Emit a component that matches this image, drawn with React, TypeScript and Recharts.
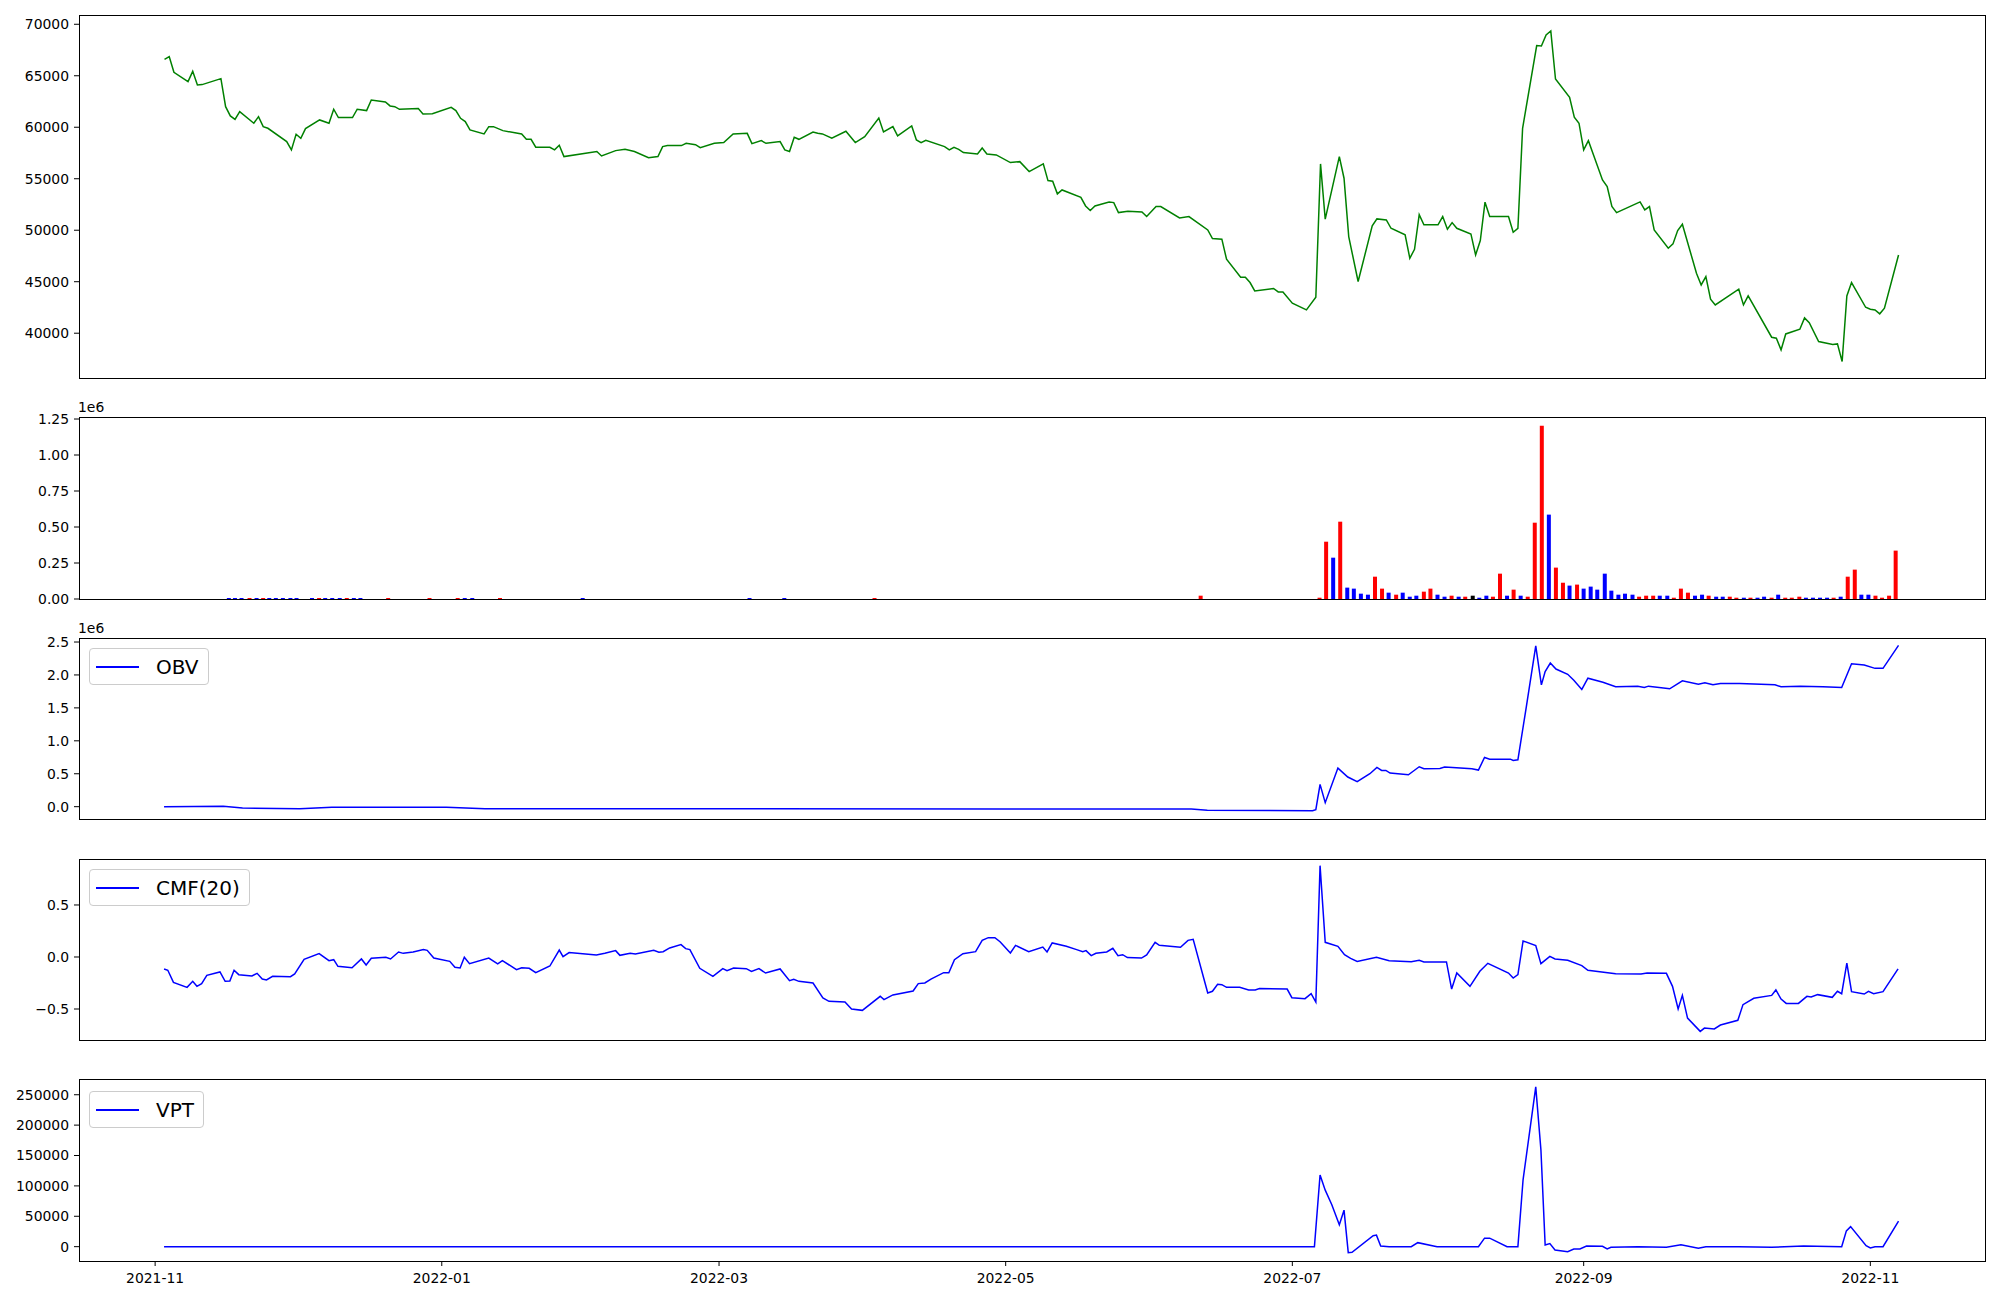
import React from "react";
import { LineChart, Line, BarChart, Bar, Cell, XAxis, YAxis, Legend } from "recharts";

// x values are days since 2021-11-01
const TICK_DAYS = [0, 61, 120, 181, 242, 304, 365];
const TICK_LABELS = ["2021-11", "2022-01", "2022-03", "2022-05", "2022-07", "2022-09", "2022-11"];

const PRICE_DAY = [
  2, 3, 4, 7, 8, 9, 10, 14, 15, 16, 17, 18, 21, 22, 23, 24, 28, 29, 30, 31, 32, 35, 37, 38, 39, 42, 43, 45, 46, 49,
  50, 51, 52, 56, 57, 59, 63, 64, 65, 66, 67, 70, 71, 72, 74, 78, 79, 80, 81, 84, 85, 86, 87, 94, 95, 98, 100, 102,
  105, 107, 108, 109, 112, 113, 115, 116, 119, 121, 123, 126, 127, 129, 130, 133, 134, 135, 136, 137, 140, 141, 142,
  144, 147, 149, 151, 154, 155, 157, 158, 161, 162, 163, 164, 168, 169, 170, 171, 172, 175, 176, 177, 179, 182, 184,
  186, 189, 190, 191, 192, 193, 197, 198, 199, 200, 203, 204, 205, 207, 210, 211, 213, 214, 218, 220, 224, 225, 227,
  228, 231, 232, 233, 234, 238, 239, 240, 242, 245, 247, 248, 249, 252, 253, 254, 256, 259, 260, 262, 263, 266, 267,
  268, 269, 270, 273, 274, 275, 276, 277, 280, 281, 282, 283, 284, 288, 289, 290, 291, 294, 295, 296, 297, 298, 301,
  302, 303, 304, 305, 308, 309, 310, 311, 316, 317, 318, 319, 322, 323, 324, 325, 328, 329, 330, 331, 332, 337, 338,
  339, 344, 345, 346, 347, 350, 351, 352, 354, 357, 358, 359, 360, 361, 364, 365, 366, 367, 368, 371,
];
const PRICE = [
  66600, 66860, 65340, 64430, 65430, 64110, 64140, 64720, 62000, 61100, 60770, 61520, 60390, 61030, 60060, 59900,
  58610, 57800, 59320, 58930, 59870, 60710, 60390, 61750, 60940, 60940, 61750, 61620, 62650, 62460, 62070, 62000,
  61740, 61810, 61290, 61320, 61940, 61620, 60870, 60550, 59740, 59350, 60060, 60060, 59670, 59350, 58830, 58830,
  58060, 58060, 57800, 58250, 57150, 57640, 57210, 57730, 57860, 57640, 57050, 57150, 58120, 58220, 58220, 58440,
  58310, 58020, 58440, 58510, 59350, 59410, 58410, 58700, 58440, 58610, 57800, 57640, 59030, 58830, 59540, 59410,
  59350, 58930, 59610, 58510, 59090, 60900, 59540, 60060, 59160, 60130, 58770, 58510, 58730, 58120, 57800, 58060,
  57860, 57540, 57410, 57990, 57410, 57310, 56570, 56660, 55690, 56440, 54820, 54760, 53530, 53910, 53200, 52360,
  51910, 52360, 52750, 52680, 51710, 51840, 51780, 51330, 52300, 52300, 51200, 51330, 50030, 49190, 49130, 47180,
  45440, 45440, 44920, 44110, 44340, 44010, 44010, 42910, 42260, 43490, 56440, 51070, 57150, 55050, 49380, 45020,
  50420, 51100, 51000, 50190, 49550, 47280, 48150, 51520, 50520, 50520, 51330, 50100, 50740, 50190, 49640, 47600,
  49000, 52720, 51330, 51330, 49800, 50190, 59900, 67930, 67890, 68960, 69350, 64690, 62910, 60970, 60390, 57800,
  58700, 54880, 54240, 52300, 51710, 52750, 51970, 52300, 50030, 48250, 48670, 49970, 50580, 45820, 44690, 45500,
  43300, 42750, 44270, 42750, 43620, 39610, 39510, 38380, 39930, 40390, 41490, 41030, 39190, 38900, 38960, 37250,
  43620, 44920, 42520, 42330, 42260, 41880, 42430, 47600,
];

// direction: 1 = up (red), -1 = down (blue), 0 = unchanged (black)
const VOL_DAY = [
  15.7, 17.0, 18.4, 20.1, 21.6, 23.0, 24.3, 25.7, 27.2, 28.8, 30.1, 33.4, 34.9, 36.2, 37.7, 39.3, 40.8, 42.3, 43.7,
  49.6, 58.4, 64.4, 65.9, 67.5, 73.4, 91.0, 126.5, 133.9, 153.1, 222.5,
  247.8, 249.2, 250.7, 252.2, 253.7, 255.1, 256.6, 258.1, 259.6, 261.1, 262.5, 264.1, 265.5, 267.0, 268.4, 270.0,
  271.4, 272.9, 274.4, 275.9, 277.4, 278.8, 280.4, 281.8, 283.3, 284.7, 286.2, 287.7, 289.1, 290.6, 292.1, 293.6,
  295.1, 296.6, 298.1, 299.6, 301.0, 302.6, 304.0, 305.5, 306.9, 308.5, 309.9, 311.4, 312.8, 314.4, 315.8, 317.3,
  318.8, 320.2, 321.8, 323.2, 324.7, 326.2, 327.7, 329.2, 330.6, 332.2, 333.6, 335.1, 336.5, 338.1, 339.5, 341.0,
  342.4, 344.0, 345.4, 346.9, 348.3, 349.9, 351.3, 352.8, 354.3, 355.8, 357.2, 358.7, 360.2, 361.7, 363.1, 364.6,
  366.1, 367.5, 369.0, 370.4,
];
const VOL = [
  7000, 7000, 7000, 7000, 7000, 7000, 7000, 7000, 7000, 7000, 7000, 7000, 7000, 7000, 7000, 7000, 7000, 7000, 7000,
  7000, 7000, 7000, 7000, 7000, 7000, 7000, 7000, 7000, 7000, 23000,
  9000, 398000, 287000, 537000, 79000, 72000, 37000, 30000, 155000, 72000, 44000, 30000, 44000, 16000, 23000, 51000,
  72000, 30000, 16000, 23000, 16000, 16000, 23000, 9000, 23000, 16000, 176000, 23000, 65000, 23000, 16000, 530000,
  1204000, 586000, 218000, 113000, 93000, 100000, 72000, 86000, 65000, 176000, 58000, 30000, 37000, 30000, 16000, 23000,
  23000, 23000, 23000, 9000, 72000, 44000, 23000, 30000, 23000, 16000, 16000, 16000, 9000, 9000, 9000, 9000,
  16000, 9000, 30000, 9000, 9000, 16000, 9000, 9000, 9000, 9000, 9000, 16000, 155000, 204000, 30000, 30000,
  23000, 9000, 23000, 336000,
];
const VOL_DIR = [
  -1, -1, -1, 1, -1, 1, -1, -1, -1, -1, -1, -1, 1, -1, -1, -1, 1, -1, -1,
  1, 1, 1, -1, -1, 1, -1, -1, -1, 1, 1,
  1, 1, -1, 1, -1, -1, -1, -1, 1, 1, -1, 1, -1, -1, -1, 1,
  1, -1, -1, 1, -1, 1, 0, -1, -1, 1, 1, -1, 1, -1, 1, 1,
  1, -1, 1, 1, -1, 1, -1, -1, -1, -1, -1, -1, -1, -1, 1, 1,
  1, -1, -1, 1, 1, 1, -1, -1, 1, -1, -1, 1, 1, -1, 1, -1,
  -1, 1, -1, 1, 1, 1, -1, -1, -1, -1, 1, -1, 1, 1, -1, -1,
  1, 1, 1, 1,
];

const OBV_DAY = [
  1.9, 14.5, 18.6, 30.8, 37.6, 62, 70.2, 129.9, 179.8, 220.5, 223.9, 246.3, 247, 247.9, 249, 251.7, 253.8, 255.8,
  258.5, 260, 261, 261.9, 262.8, 266.7, 269, 270, 273.4, 274.4, 276.1, 280.2, 281.6, 282.9, 284, 288.4, 289, 290,
  291.8, 293.8, 295, 295.8, 296.9, 298.1, 300.6, 301.9, 303.6, 304.9, 308.1, 310.8, 315.5, 316.9, 317.8, 322.3, 325,
  328.4, 329.8, 331.5, 333.1, 337.2, 344.7, 346, 350.1, 354.9, 358.9, 361, 363.7, 366, 367.7, 371,
];
const OBV = [
  0, 5000, -20000, -30000, -10000, -10000, -30000, -30000, -35000, -35000, -56000, -61000, -45000, 338000, 61000,
  586000, 450000, 379000, 500000, 596000, 551000, 551000, 510000, 485000, 606000, 576000, 581000, 601000, 596000,
  576000, 556000, 747000, 722000, 722000, 702000, 712000, 1520000, 2440000, 1850000, 2050000, 2180000, 2090000,
  2010000, 1920000, 1780000, 1950000, 1890000, 1820000, 1830000, 1810000, 1830000, 1790000, 1910000, 1860000,
  1880000, 1850000, 1870000, 1870000, 1850000, 1820000, 1830000, 1820000, 1810000, 2170000, 2150000, 2100000,
  2100000, 2450000,
];

const CMF_DAY = [
  1.9, 2.7, 3.9, 6.8, 8.0, 8.9, 9.9, 11.0, 13.8, 14.9, 15.9, 16.8, 17.8, 20.6, 21.7, 22.8, 23.7, 25.0, 28.8, 29.7,
  31.7, 34.9, 37.0, 38.0, 38.9, 41.9, 43.9, 44.9, 46.0, 49.1, 50.1, 51.8, 52.8, 54.9, 57.1, 57.9, 59.3, 62.7, 63.8,
  64.9, 65.8, 66.9, 71.0, 72.9, 73.9, 76.9, 78.0, 79.6, 81.0, 84.0, 86.0, 86.8, 88.1, 93.9, 95.7, 98.0, 98.9, 101.1,
  102.2, 106.1, 107.2, 108.1, 109.5, 111.9, 112.9, 113.8, 115.9, 118.7, 120.8, 121.7, 123.1, 125.8, 126.9, 128.5,
  129.9, 133.0, 135.0, 135.9, 137.0, 140.0, 142.1, 143.4, 146.8, 148.2, 150.5, 154.3, 155.1, 157.0, 161.3, 162.4,
  163.8, 165.1, 167.8, 168.9, 170.1, 171.9, 174.6, 176.0, 177.3, 178.7, 179.8, 182.0, 183.1, 185.9, 188.9, 189.8,
  190.9, 193.9, 196.1, 197.4, 198.1, 199.2, 200.2, 202.5, 203.8, 204.9, 205.9, 206.9, 209.9, 211.0, 212.8, 213.7,
  218.2, 219.8, 220.9, 224.0, 225.0, 226.1, 227.0, 228.0, 230.8, 232.7, 234.1, 235.0, 240.9, 241.9, 244.7, 246.0,
  247.0, 247.9, 249.0, 251.7, 253.1, 254.4, 255.8, 259.9, 262.6, 267.3, 269.0, 270.0, 274.8, 275.9, 277.0, 279.8,
  281.9, 283.6, 288.0, 289.0, 290.0, 291.1, 293.8, 294.9, 296.8, 297.9, 300.6, 303.6, 304.9, 310.8, 316.2, 317.5,
  321.6, 322.9, 324.1, 325.0, 326.1, 328.8, 329.7, 331.8, 333.1, 336.8, 337.9, 340.2, 344.0, 344.9, 346.0, 347.1,
  349.7, 351.5, 352.4, 353.8, 356.9, 358.0, 358.9, 360.0, 361.0, 363.7, 364.6, 365.7, 367.7, 370.9,
];
const CMF = [
  -0.115, -0.128, -0.244, -0.292, -0.234, -0.282, -0.256, -0.176, -0.144, -0.234, -0.231, -0.128, -0.17, -0.183,
  -0.157, -0.212, -0.221, -0.186, -0.189, -0.163, -0.022, 0.032, -0.035, -0.026, -0.09, -0.103, -0.019, -0.077,
  -0.013, -0.003, -0.019, 0.048, 0.035, 0.048, 0.071, 0.064, -0.01, -0.042, -0.099, -0.106, -0.003, -0.064, -0.01,
  -0.067, -0.035, -0.122, -0.103, -0.109, -0.151, -0.087, 0.067, 0.003, 0.042, 0.019, 0.035, 0.061, 0.016, 0.035,
  0.029, 0.064, 0.045, 0.051, 0.087, 0.119, 0.08, 0.071, -0.109, -0.186, -0.112, -0.131, -0.106, -0.112, -0.138,
  -0.112, -0.154, -0.115, -0.228, -0.215, -0.234, -0.25, -0.394, -0.426, -0.433, -0.5, -0.513, -0.378, -0.41,
  -0.365, -0.327, -0.256, -0.25, -0.212, -0.151, -0.151, -0.026, 0.032, 0.051, 0.16, 0.186, 0.186, 0.147, 0.038,
  0.112, 0.051, 0.096, 0.048, 0.135, 0.103, 0.071, 0.051, 0.061, 0.013, 0.035, 0.048, 0.083, 0.013, 0.022, -0.006,
  -0.01, 0.019, 0.141, 0.112, 0.093, 0.16, 0.17, -0.346, -0.33, -0.263, -0.266, -0.292, -0.292, -0.317, -0.317,
  -0.304, -0.308, -0.391, -0.401, -0.353, -0.433, 0.878, 0.141, 0.103, 0.022, -0.013, -0.042, -0.003, -0.035,
  -0.045, -0.032, -0.048, -0.048, -0.308, -0.154, -0.282, -0.138, -0.061, -0.154, -0.202, -0.17, 0.154, 0.109,
  -0.064, 0.006, -0.019, -0.032, -0.083, -0.128, -0.16, -0.163, -0.154, -0.157, -0.282, -0.5, -0.369, -0.587,
  -0.715, -0.683, -0.692, -0.654, -0.609, -0.458, -0.397, -0.369, -0.317, -0.404, -0.446, -0.446, -0.378, -0.385,
  -0.362, -0.388, -0.33, -0.353, -0.058, -0.333, -0.356, -0.33, -0.353, -0.333, -0.115,
];

const VPT_DAY = [
  1.9, 100, 246.7, 247.9, 249.0, 250.4, 252.0, 253.0, 253.9, 254.7, 259.2, 259.9, 260.8, 262.6, 267.3, 268.7, 272.8,
  281.6, 282.9, 284.0, 287.7, 290.0, 291.1, 293.8, 294.9, 295.8, 296.8, 297.9, 300.6, 301.9, 303.2, 304.6, 308.0,
  309.0, 309.8, 315.5, 321.6, 324.7, 328.4, 330, 337, 344.0, 350.8, 358.9, 359.9, 360.8, 364.1, 365.0, 366.0, 367.7,
  371.0,
];
const VPT = [
  0, 0, 0, 118000, 93000, 69000, 36000, 60000, -9900, -9300, 18000, 19000, 1000, 0, 0, 6600, 0, 0, 14000, 14000, 0,
  0, 110000, 263000, 159000, 2700, 5000, -5500, -8200, -3800, -3800, 1000, 500, -3800, -1000, 0, -1000, 3300, -2700,
  0, 0, -1000, 1000, 0, 26000, 33000, 1600, -2200, 0, 0, 42000,
];

const PRICE_TICKS = [40000, 45000, 50000, 55000, 60000, 65000, 70000];
const VOL_TICKS = [0, 250000, 500000, 750000, 1000000, 1250000];
const OBV_TICKS = [0, 500000, 1000000, 1500000, 2000000, 2500000];
const CMF_TICKS = [-0.5, 0, 0.5];
const VPT_TICKS = [0, 50000, 100000, 150000, 200000, 250000];

const zip = (xs: number[], ys: number[]) => xs.map((d, i) => ({ d, v: ys[i] }));
const priceData = zip(PRICE_DAY, PRICE);
const volData = VOL_DAY.map((d, i) => ({ d, v: VOL[i], dir: VOL_DIR[i] }));
const obvData = zip(OBV_DAY, OBV);
const cmfData = zip(CMF_DAY, CMF);
const vptData = zip(VPT_DAY, VPT);

const X_DOMAIN: [number, number] = [-16.2, 389.4];
const LEFT = 79;
const RIGHT = 15;
const PAD = 12;
const PLOT_W = 2000 - LEFT - RIGHT;
const DIR_COLOR: Record<number, string> = { 1: "#ff0000", [-1]: "#0000ff", 0: "#000000" };

const tickStyle = { fontSize: 13.9, fill: "#000" };
const minus = (s: string) => s.replace("-", "\u2212");

const yAxisProps = {
  width: LEFT,
  tick: tickStyle,
  tickLine: { stroke: "#000" },
  axisLine: false,
  tickSize: 5,
  tickMargin: 5,
  interval: 0 as const,
  allowDataOverflow: true,
};

function Frame({ top, height }: { top: number; height: number }) {
  return (
    <div
      style={{
        position: "absolute", left: LEFT - 0.5, top: top - 0.5, width: PLOT_W + 1, height: height + 1,
        border: "1px solid #000", boxSizing: "border-box", pointerEvents: "none",
      }}
    />
  );
}

const legendContent = (label: string) => () => (
  <div
    style={{
      display: "flex", alignItems: "center", height: 35, padding: "0 9px 0 6px",
      border: "1px solid #cccccc", borderRadius: 4, background: "rgba(255,255,255,0.8)",
      fontSize: 20, color: "#000", whiteSpace: "nowrap",
    }}
  >
    <span style={{ display: "inline-block", width: 43, height: 2, background: "#0000ff", marginRight: 17 }} />
    {label}
  </div>
);

const offsetText = (top: number) => (
  <span style={{ position: "absolute", left: 78, top, fontSize: 13.9 }}>1e6</span>
);

export default function App() {
  return (
    <div
      style={{
        position: "absolute", left: 0, top: 0, width: 2000, height: 1300, background: "#fff",
        fontFamily: '"DejaVu Sans", sans-serif',
      }}
    >
      {/* Price */}
      <div style={{ position: "absolute", left: 0, top: 15 - PAD }}>
        <LineChart width={2000} height={363 + 2 * PAD} data={priceData}
          margin={{ top: PAD, right: RIGHT, bottom: PAD, left: 0 }}>
          <XAxis type="number" dataKey="d" domain={X_DOMAIN} hide allowDataOverflow />
          <YAxis {...yAxisProps} domain={[35650, 70900]} ticks={PRICE_TICKS} />
          <Line type="linear" dataKey="v" stroke="#008000" strokeWidth={1.5} dot={false} isAnimationActive={false} />
        </LineChart>
      </div>
      <Frame top={15} height={363} />

      {/* Volume */}
      <div style={{ position: "absolute", left: 0, top: 417 - PAD }}>
        <BarChart width={2000} height={182 + 2 * PAD} data={volData}
          margin={{ top: PAD, right: RIGHT, bottom: PAD, left: 0 }}>
          <XAxis type="number" dataKey="d" domain={X_DOMAIN} hide allowDataOverflow />
          <YAxis {...yAxisProps} domain={[0, 1264000]} ticks={VOL_TICKS}
            tickFormatter={(v: number) => (v / 1e6).toFixed(2)} />
          <Bar dataKey="v" barSize={4} isAnimationActive={false}>
            {volData.map((e, i) => (
              <Cell key={i} fill={DIR_COLOR[e.dir]} />
            ))}
          </Bar>
        </BarChart>
      </div>
      <Frame top={417} height={182} />
      {offsetText(399)}

      {/* OBV */}
      <div style={{ position: "absolute", left: 0, top: 638 - PAD }}>
        <LineChart width={2000} height={181 + 2 * PAD} data={obvData}
          margin={{ top: PAD, right: RIGHT, bottom: PAD, left: 0 }}>
          <XAxis type="number" dataKey="d" domain={X_DOMAIN} hide allowDataOverflow />
          <YAxis {...yAxisProps} domain={[-187000, 2561000]} ticks={OBV_TICKS}
            tickFormatter={(v: number) => (v / 1e6).toFixed(1)} />
          <Legend layout="horizontal" verticalAlign="middle" align="center" content={legendContent("OBV")}
            wrapperStyle={{ left: 89, top: 22, width: "auto", height: "auto" }} />
          <Line type="linear" dataKey="v" name="OBV" stroke="#0000ff" strokeWidth={1.5} dot={false}
            isAnimationActive={false} />
        </LineChart>
      </div>
      <Frame top={638} height={181} />
      {offsetText(620)}

      {/* CMF */}
      <div style={{ position: "absolute", left: 0, top: 859 - PAD }}>
        <LineChart width={2000} height={181 + 2 * PAD} data={cmfData}
          margin={{ top: PAD, right: RIGHT, bottom: PAD, left: 0 }}>
          <XAxis type="number" dataKey="d" domain={X_DOMAIN} hide allowDataOverflow />
          <YAxis {...yAxisProps} domain={[-0.798, 0.942]} ticks={CMF_TICKS}
            tickFormatter={(v: number) => minus(v.toFixed(1))} />
          <Legend layout="horizontal" verticalAlign="middle" align="center" content={legendContent("CMF(20)")}
            wrapperStyle={{ left: 89, top: 22, width: "auto", height: "auto" }} />
          <Line type="linear" dataKey="v" name="CMF(20)" stroke="#0000ff" strokeWidth={1.5} dot={false}
            isAnimationActive={false} />
        </LineChart>
      </div>
      <Frame top={859} height={181} />

      {/* VPT */}
      <div style={{ position: "absolute", left: 0, top: 1079 - PAD }}>
        <LineChart width={2000} height={182 + PAD + 40} data={vptData}
          margin={{ top: PAD, right: RIGHT, bottom: 0, left: 0 }}>
          <XAxis type="number" dataKey="d" domain={X_DOMAIN} ticks={TICK_DAYS} interval={0} allowDataOverflow
            height={40} tick={tickStyle} tickLine={{ stroke: "#000" }} axisLine={false} tickSize={5} tickMargin={7}
            tickFormatter={(v: number) => TICK_LABELS[TICK_DAYS.indexOf(v)] ?? ""} />
          <YAxis {...yAxisProps} domain={[-23600, 275900]} ticks={VPT_TICKS} />
          <Legend layout="horizontal" verticalAlign="middle" align="center" content={legendContent("VPT")}
            wrapperStyle={{ left: 89, top: 24, width: "auto", height: "auto" }} />
          <Line type="linear" dataKey="v" name="VPT" stroke="#0000ff" strokeWidth={1.5} dot={false}
            isAnimationActive={false} />
        </LineChart>
      </div>
      <Frame top={1079} height={182} />
    </div>
  );
}
